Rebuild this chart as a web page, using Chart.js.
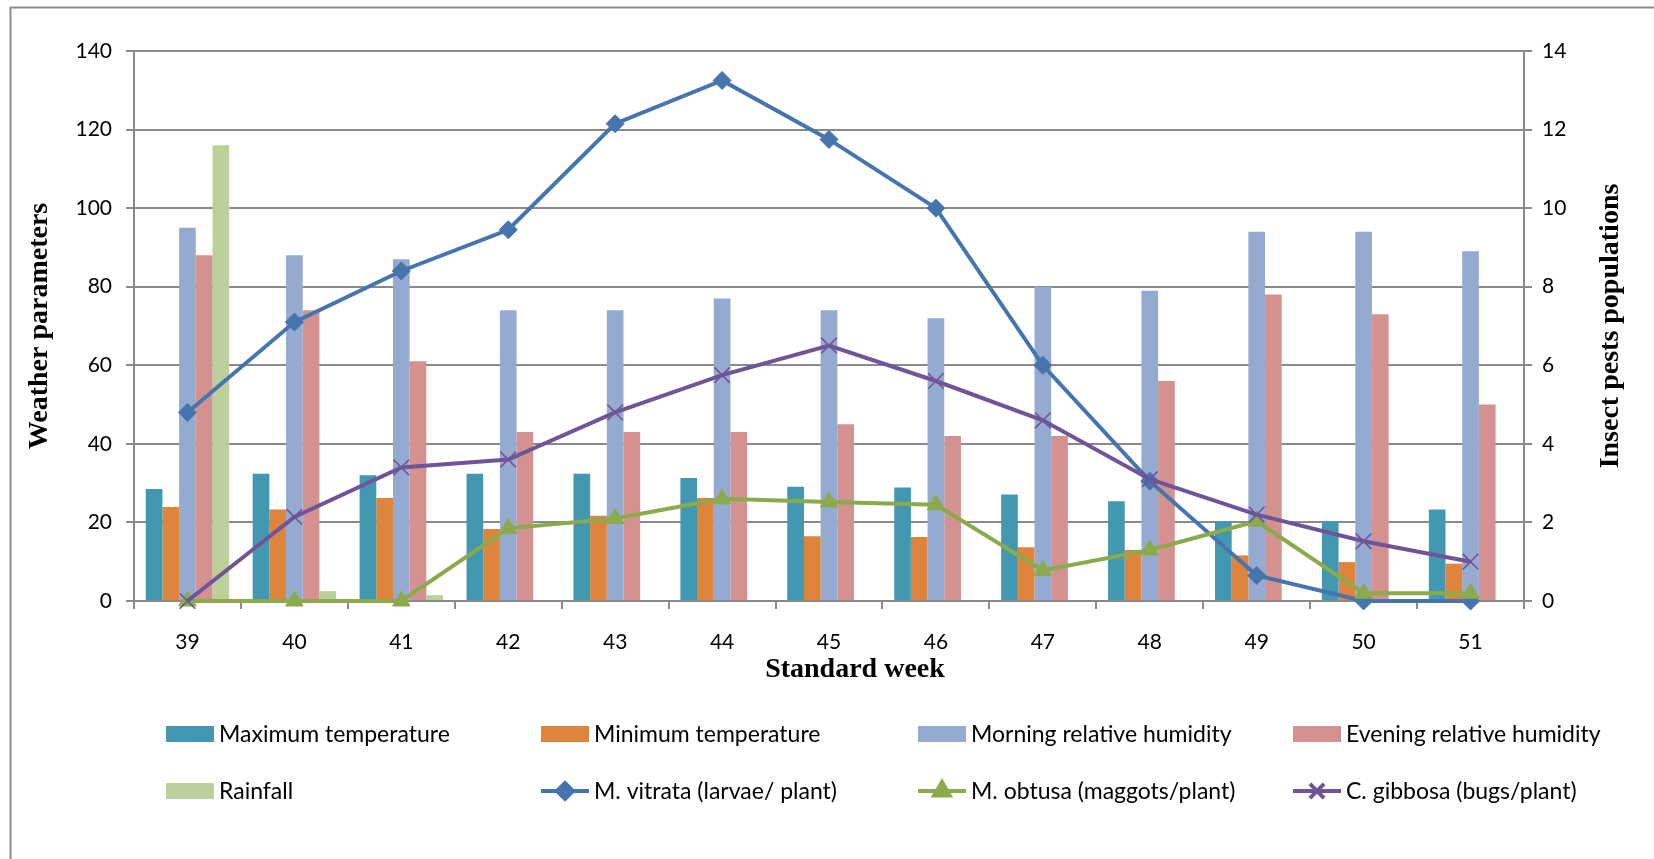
<!DOCTYPE html>
<html>
<head>
<meta charset="utf-8">
<script src="https://cdn.jsdelivr.net/npm/chart.js@4.4.0/dist/chart.umd.min.js"></script>
<style>
  html, body { margin: 0; padding: 0; background: #ffffff; }
  #wrap { width: 1654px; height: 859px; position: relative; }
</style>
</head>
<body>
<div id="wrap"><canvas id="c" width="1654" height="859"></canvas></div>
<script>
// Standard weeks on the x axis
const weeks = ['39', '40', '41', '42', '43', '44', '45', '46', '47', '48', '49', '50', '51'];

// Weather parameters (left axis)
const maxTemp   = [28.5, 32.4, 32.0, 32.4, 32.4, 31.3, 29.1, 28.9, 27.1, 25.4, 20.3, 20.3, 23.3];
const minTemp   = [23.9, 23.3, 26.2, 18.3, 21.7, 26.2, 16.5, 16.3, 13.7, 13.0, 11.6, 9.9, 9.5];
const morningRH = [95, 88, 87, 74, 74, 77, 74, 72, 80, 79, 94, 94, 89];
const eveningRH = [88, 74, 61, 43, 43, 43, 45, 42, 42, 56, 78, 73, 50];
const rainfall  = [116, 2.5, 1.5, 0, 0, 0, 0, 0, 0, 0, 0, 0, 0];

// Insect pest populations (right axis)
const vitrata = [4.8, 7.1, 8.4, 9.45, 12.15, 13.25, 11.75, 10.0, 6.0, 3.05, 0.65, 0, 0];
const obtusa  = [0, 0, 0, 1.85, 2.1, 2.6, 2.52, 2.45, 0.78, 1.3, 2.03, 0.2, 0.2];
const gibbosa = [0, 2.14, 3.4, 3.6, 4.8, 5.75, 6.5, 5.6, 4.6, 3.1, 2.2, 1.52, 1.0];

// Axis tick ranges
const leftMax = 140, leftStep = 20;
const rightMax = 14, rightStep = 2;

const GRID = '#8a8a8a';
const TICK_FONT = { family: 'Lato', size: 21 };

function barSet(label, data, color) {
  return { type: 'bar', label, data, yAxisID: 'y', backgroundColor: color, order: 5,
           categoryPercentage: 0.78, barPercentage: 1.0 };
}
function lineSet(label, data, color, style, radius, pbw, order) {
  return { type: 'line', label, data, yAxisID: 'y1', borderColor: color, backgroundColor: color,
           borderWidth: 4, pointStyle: style, pointRadius: radius, pointBorderWidth: pbw,
           pointBackgroundColor: color, pointBorderColor: color, tension: 0, clip: false, order };
}

const datasets = [
  barSet('Maximum temperature', maxTemp, '#4298B0'),
  barSet('Minimum temperature', minTemp, '#DE843C'),
  barSet('Morning relative humidity', morningRH, '#95AAD1'),
  barSet('Evening relative humidity', eveningRH, '#D39290'),
  barSet('Rainfall', rainfall, '#BCD19A'),
  lineSet('M. vitrata (larvae/ plant)', vitrata, '#4675AE', 'rectRot', 9, 1, 2),
  lineSet('M. obtusa (maggots/plant)', obtusa, '#8BAA4C', 'triangle', 10, 1, 1),
  lineSet('C. gibbosa (bugs/plant)', gibbosa, '#6F5597', 'crossRot', 11, 1.6, 0)
];

// Frame, axis titles and a column-aligned legend
const decor = {
  id: 'decor',
  beforeDraw(chart) {
    const ctx = chart.ctx;
    ctx.save();
    ctx.fillStyle = '#ffffff';
    ctx.fillRect(0, 0, chart.width, chart.height);
    ctx.strokeStyle = '#8c8c8c';
    ctx.lineWidth = 2;
    ctx.strokeRect(10.5, 7.5, chart.width + 20, chart.height + 20);
    ctx.restore();
  },
  afterDraw(chart) {
    const ctx = chart.ctx;
    const area = chart.chartArea;
    ctx.save();
    ctx.fillStyle = '#000000';
    ctx.font = 'bold 28px "Liberation Serif"';
    ctx.textAlign = 'center';
    ctx.textBaseline = 'middle';
    ctx.fillText('Standard week', 855, 670);

    const midY = (area.top + area.bottom) / 2;
    ctx.save();
    ctx.translate(40, midY);
    ctx.rotate(-Math.PI / 2);
    ctx.fillText('Weather parameters', 0, 0);
    ctx.restore();
    ctx.save();
    ctx.translate(1611, midY);
    ctx.rotate(-Math.PI / 2);
    ctx.fillText('Insect pests populations', 0, 0);
    ctx.restore();

    // legend: 4 columns x 2 rows
    const cols = [166, 541, 918, 1293];
    const rows = [734, 791];
    ctx.font = '23px Lato';
    ctx.textAlign = 'left';
    chart.data.datasets.forEach((ds, i) => {
      const x = cols[i % 4];
      const y = rows[Math.floor(i / 4)];
      if (ds.type === 'bar') {
        ctx.fillStyle = ds.backgroundColor;
        ctx.fillRect(x, y - 8, 48, 16);
      } else {
        ctx.strokeStyle = ds.borderColor;
        ctx.lineWidth = 4;
        ctx.beginPath();
        ctx.moveTo(x, y);
        ctx.lineTo(x + 48, y);
        ctx.stroke();
        ctx.fillStyle = ds.borderColor;
        Chart.helpers.drawPoint(ctx, {
          pointStyle: ds.pointStyle, radius: ds.pointRadius - 1,
          borderWidth: ds.pointBorderWidth, rotation: 0
        }, x + 24, y);
      }
      ctx.fillStyle = '#000000';
      ctx.fillText(ds.label, x + 53, y + 1);
    });
    ctx.restore();
  }
};

new Chart(document.getElementById('c'), {
  type: 'bar',
  data: { labels: weeks, datasets },
  plugins: [decor],
  options: {
    responsive: false,
    animation: false,
    devicePixelRatio: 1,
    layout: { padding: { top: 51, left: 0, right: 0, bottom: 0 } },
    plugins: { legend: { display: false }, tooltip: { enabled: false }, title: { display: false } },
    scales: {
      x: {
        grid: { display: true, drawOnChartArea: false, drawTicks: true, tickLength: 8,
                color: GRID, lineWidth: 2, offset: true },
        border: { display: true, color: GRID, width: 2 },
        ticks: { font: TICK_FONT, color: '#000000', padding: 21, maxRotation: 0 },
        afterFit(s) { s.height = 258; }
      },
      y: {
        position: 'left', min: 0, max: leftMax,
        ticks: { stepSize: leftStep, font: TICK_FONT, color: '#000000', padding: 14 },
        grid: { color: GRID, lineWidth: 2, tickLength: 8 },
        border: { display: true, color: GRID, width: 2 },
        afterFit(s) { s.width = 134; }
      },
      y1: {
        position: 'right', min: 0, max: rightMax,
        ticks: { stepSize: rightStep, font: TICK_FONT, color: '#000000', padding: 10 },
        grid: { drawOnChartArea: false, color: GRID, lineWidth: 2, tickLength: 8 },
        border: { display: true, color: GRID, width: 2 },
        afterFit(s) { s.width = 130; }
      }
    }
  }
});
</script>
</body>
</html>
